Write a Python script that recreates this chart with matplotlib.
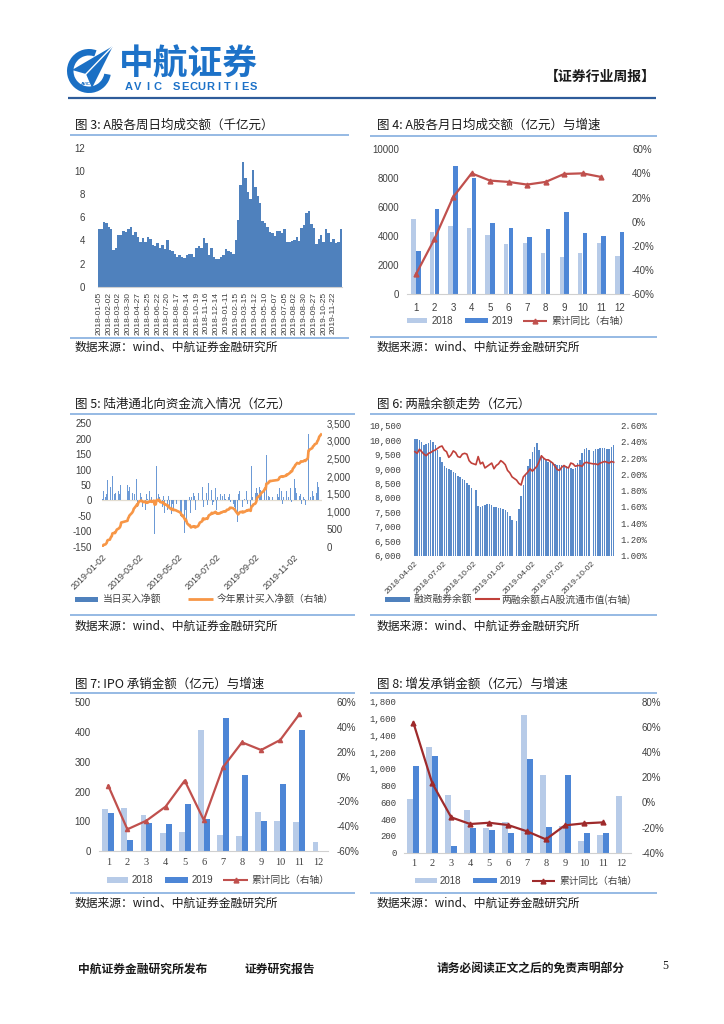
import numpy as np
import pandas as pd
import matplotlib
matplotlib.use('Agg')
import matplotlib.pyplot as plt
from matplotlib.patches import Rectangle, Wedge, Polygon
from matplotlib.ticker import FuncFormatter

CJK = ['Noto Sans CJK SC', 'DejaVu Sans']
SANS = ['Liberation Sans', 'DejaVu Sans']
SERIF = ['Liberation Serif', 'DejaVu Serif']
MONO = ['Liberation Mono', 'DejaVu Sans Mono']
plt.rcParams['font.family'] = CJK
plt.rcParams['axes.unicode_minus'] = False

# ------------------------------------------------------------------ data
# Fig 3: weekly average daily turnover (thousand 100m CNY)
turnover_w = [4.97, 5.0, 5.55, 5.5, 5.15, 4.95, 3.16, 3.38, 4.45, 4.5,
              4.8, 4.75, 5.0, 5.15, 4.5, 4.7, 4.27, 3.9, 4.2, 3.85,
              4.3, 4.1, 3.6, 3.5, 3.75, 3.3, 3.6, 3.27, 4.05, 3.2,
              3.05, 2.8, 2.6, 2.75, 2.6, 2.45, 2.75, 2.8, 2.85, 2.6,
              3.35, 3.5, 3.3, 4.2, 3.8, 2.75, 3.3, 2.6, 2.4, 2.4,
              2.55, 2.75, 3.25, 3.1, 3.0, 2.85, 4.0, 5.8, 8.75, 10.8,
              9.4, 8.2, 7.55, 10.1, 8.6, 7.8, 7.2, 5.7, 5.5, 5.15,
              4.7, 4.65, 4.4, 4.8, 4.85, 4.65, 5.0, 3.85, 3.9, 3.95,
              4.0, 4.25, 3.95, 5.05, 5.35, 6.4, 6.55, 5.4, 5.05, 3.7,
              4.1, 4.5, 3.9, 4.95, 4.6, 3.9, 4.1, 3.8, 3.9, 4.95]
weeks3_missing = ['2018-10-05', '2019-02-08']

# Fig 4: monthly average daily turnover (100m CNY) and cumulative YoY (%)
months = list(range(1, 13))
vol_2018 = [5200, 4300, 4690, 4550, 4070, 3450, 3520, 2830, 2600, 2870, 3540, 2670]
vol_2019 = [2970, 5890, 8850, 8050, 4900, 4600, 3950, 4480, 5680, 4230, 4050, 4280]
vol_yoy = [-43.4, -14.2, 20.3, 40.1, 34.1, 33.0, 30.8, 33.0, 39.6, 40.1, 37.1]

# Fig 5: northbound daily net buy (100m CNY), 2019 trading days
nb_jan = [5, 20, 30, 10, 25, 20, 65, 15, 10, 45, 35, 15, 80, 20, -10, 25, 35, 40, 30, 20, 15, 50]
nb_feb = [85, 50, 70, 30, 45, 20, 55, 25, 35, 60, 20, 70, 30, -20, 60]
nb_mar = [40, 25, 10, -15, -20, -10, 15, -30, 20, -25, 5, 30, 15, -5, 10, -30, 35, -108, 20, -15, 110]
nb_apr = [20, -25, 10, -50, -20, 15, -30, -40, 10, -25, -30, 15, -40, -20, -45, 20, -10, -30, 10, -15, -10]
nb_may = [-50, -35, -40, -25, 15, -107, -30, 20, -60, -50, -55, 10, -40, -30, 10, 25, -20, 15, -30, 15]
nb_jun = [20, 25, 40, 35, 45, 75, -20, 10, -10, 25, -15, 30, 55, 20, 30, 35, -15, 10, -5]
nb_jul = [40, -20, -30, 10, -15, 10, 20, 10, -5, 15, 20, -10, 5, 15, 30, 10, 20, 30, -5, 5, -15, -10, -20]
nb_aug = [-15, -35, -69, -25, 20, 30, 15, 10, -20, 25, -15, 5, 30, 15, -10, 20, 5, -30, 110, 20, 10, 40]
nb_sep = [20, 25, 40, 94, 25, 45, 20, 35, 25, 60, 40, 25, -10, 147, 15, 40, 10, 15, -5, 10]
nb_oct = [20, 10, 25, 40, 30, -5, -10, 10, 5, 15, 30, -10, 20, 10, 40, 35, -5, 15]
nb_nov = [60, 70, 40, 15, 25, 20, -20, 15, 20, 30, -10, 10, 20, 5, -15, 25, 55, 215, 10, 20, 10]
nb_dec = [30, 45, 15, 20, 30, 25, 60, 20, 45, 60, 65]
nb_holidays = ['2019-02-04', '2019-02-05', '2019-02-06', '2019-02-07', '2019-02-08',
               '2019-04-05', '2019-05-01', '2019-05-02', '2019-05-03', '2019-06-07',
               '2019-09-13', '2019-10-01', '2019-10-02', '2019-10-03', '2019-10-04',
               '2019-10-07']

# Fig 6: weekly margin balance (100m CNY) and share of A-share float cap (%)
margin_bal = [10030, 10040, 10000, 9950, 9840, 9880, 9900, 9990, 9940, 9840,
              9650, 9400, 9250, 9100, 9030, 9000, 8970, 8900, 8860, 8760,
              8720, 8650, 8620, 8530, 8440, 8330, 8290,
              7730, 7700, 7720, 7740, 7800, 7780, 7740, 7700, 7670, 7660,
              7640, 7600, 7570, 7500, 7380, 7250, 7200,
              7600, 8050, 8450, 8800, 9100, 9350, 9600, 9780, 9900, 9650,
              9500, 9380, 9300, 9260, 9230, 9200, 9180, 9150, 9140, 9130,
              9120, 9100, 9080, 9020, 8990, 9050, 9200, 9330, 9550, 9680,
              9740, 9650,
              9620, 9680, 9710, 9720, 9720, 9730, 9700, 9710, 9780, 9840]
margin_ratio = [2.28, 2.26, 2.31, 2.28, 2.25, 2.23, 2.26, 2.27, 2.29, 2.30,
                2.32, 2.34, 2.35, 2.30, 2.28, 2.21, 2.24, 2.29, 2.27, 2.22,
                2.21, 2.25, 2.26, 2.25, 2.17, 2.14, 2.12,
                2.22, 2.13, 2.15, 2.08, 2.10, 2.12, 2.14, 2.07, 2.11, 2.13,
                2.17, 2.15, 2.12, 2.05, 2.02, 1.97, 1.93,
                1.89, 1.87, 1.97, 2.00, 2.03, 2.07, 2.04, 2.07, 2.10, 2.16,
                2.23, 2.20, 2.18, 2.18, 2.16, 2.14, 2.10, 2.06, 2.05, 2.09,
                2.11, 2.09, 2.08, 2.14, 2.13, 2.10, 2.11, 2.11, 2.10, 2.14,
                2.15, 2.14,
                2.13, 2.13, 2.12, 2.14, 2.15, 2.16, 2.15, 2.14, 2.16, 2.15]
weeks6_missing = ['2018-10-05', '2019-02-08', '2019-10-04']

# Fig 7: IPO underwriting (100m CNY)
ipo_2018 = [140, 146, 120, 59, 64, 407, 55, 50, 132, 101, 99, 30]
ipo_2019 = [129, 37, 95, 90, 158, 107, 448, 254, 102, 226, 406]
ipo_yoy = [-7.3, -42.5, -35.5, -24.2, -3.2, -35.0, 7.5, 27.7, 21.5, 29.6, 50.3]

# Fig 8: follow-on offering underwriting (100m CNY)
seo_2018 = [640, 1264, 687, 509, 290, 366, 1641, 926, 322, 143, 215, 675]
seo_2019 = [1029, 1156, 79, 294, 270, 238, 1113, 302, 922, 234, 234]
seo_yoy = [63.3, 15.1, -11.9, -17.2, -16.2, -18.0, -23.0, -29.4, -18.3, -16.7, -15.9]

# ------------------------------------------------------------------ colours
C18 = '#b7cbe8'
C19 = '#4d86d6'
RED = '#c0504d'
LINE = '#8db4e2'
TICK = '#404040'

W, H = 724, 1024
fig = plt.figure(figsize=(W / 100, H / 100), dpi=100)
bg = fig.add_axes([0, 0, 1, 1])
bg.set_xlim(0, W)
bg.set_ylim(H, 0)
bg.axis('off')
bg.set_autoscale_on(False)


def add_ax(x0, y0, x1, y1):
    return fig.add_axes([x0 / W, 1 - y1 / H, (x1 - x0) / W, (y1 - y0) / H])


def style(ax, bottom=True):
    for s in ax.spines.values():
        s.set_visible(False)
    if bottom:
        ax.spines['bottom'].set_visible(True)
        ax.spines['bottom'].set_color('#d0d0d0')
        ax.spines['bottom'].set_linewidth(0.8)
    ax.tick_params(length=0, colors=TICK)
    ax.patch.set_alpha(0)


def hline(x0, x1, y, color=LINE, lw=1.3):
    bg.plot([x0, x1], [y, y], color=color, lw=lw, solid_capstyle='butt')


def title(x, y, s):
    bg.text(x, y, s, fontsize=9, va='center', ha='left', color='#1a1a1a', family=CJK)


def source(x, y):
    bg.text(x, y, '数据来源：wind、中航证券金融研究所', fontsize=8.5, va='center',
            ha='left', color='#1a1a1a', family=CJK)


def leg_patch(x0, x1, y, color, h=5.5):
    bg.add_patch(Rectangle((x0, y - h / 2), x1 - x0, h, color=color, lw=0))


def leg_line(x0, x1, y, color, lw=1.5, marker=None, ms=4):
    bg.plot([x0, x1], [y, y], color=color, lw=lw, solid_capstyle='butt')
    if marker:
        bg.plot([(x0 + x1) / 2], [y], marker=marker, color=color, ms=ms, lw=0)


def leg_text(x, y, s, fam=CJK, size=7):
    bg.text(x, y, s, fontsize=size, va='center', ha='left', color=TICK, family=fam)


pct0 = FuncFormatter(lambda v, p: f'{v:.0f}%')
comma = FuncFormatter(lambda v, p: f'{v:,.0f}')

# ------------------------------------------------------------------ header
bg.add_patch(Wedge((89, 71), 22, 10, 290, width=6.5, color='#1a6fc4', lw=0))
bg.add_patch(Polygon([(113, 46), (72, 70), (86, 74), (92, 88)], closed=True,
                     color='#1a6fc4', lw=0))
bg.plot([113, 86], [46, 74], color='white', lw=1.0)
bg.text(86, 84, 'AVIC', fontsize=3.2, color='#1a6fc4', ha='center', va='center',
        family=SANS, fontweight='bold')
bg.text(119, 64, '中航证券', fontsize=25, fontweight='bold', color='#1d72c8',
        va='center', ha='left', family=CJK)
avic = 'AVIC'
for i, ch in enumerate(avic):
    bg.text(128.5 + 9.5 * i, 87.5, ch, fontsize=8, color='#1d72c8', ha='center',
            va='center', family=SANS, fontweight='bold')
sec = 'SECURITIES'
for i, ch in enumerate(sec):
    bg.text(176 + 8.6 * i, 87.5, ch, fontsize=8, color='#1d72c8', ha='center',
            va='center', family=SANS, fontweight='bold')
bg.text(656, 77, '【证券行业周报】', fontsize=10, fontweight='bold', ha='right',
        va='center', color='#1a1a1a', family=CJK)
hline(68, 656, 97.5, color='#2e5c9a', lw=1.6)

# ------------------------------------------------------------------ Fig 3
title(75, 125.7, '图 3: A股各周日均成交额（千亿元）')
hline(70, 349, 135)
ax3 = add_ax(97.8, 147.7, 342.0, 286.7)
style(ax3)
weeks3 = pd.date_range('2018-01-05', '2019-12-13', freq='W-FRI')
weeks3 = weeks3[~weeks3.isin(pd.to_datetime(weeks3_missing))]
x3 = np.arange(len(turnover_w))
ax3.bar(x3, turnover_w, width=1.0, color='#4f81bd', lw=0)
ax3.set_xlim(-0.5, len(turnover_w) - 0.5)
ax3.set_ylim(0, 12)
ax3.set_yticks(range(0, 13, 2))
ax3.set_xticks(x3[::4], [d.strftime('%Y-%m-%d') for d in weeks3[::4]], rotation=90)
ax3.tick_params(axis='x', labelsize=6, pad=3.6, labelfontfamily=SANS)
ax3.tick_params(axis='y', labelsize=7, pad=9, labelfontfamily=SANS)
hline(70, 349, 337.7)
source(75, 347.3)

# ------------------------------------------------------------------ Fig 4
title(376.7, 125.7, '图 4: A股各月日均成交额（亿元）与增速')
hline(370, 656.7, 135.7)
ax4 = add_ax(406.7, 149.3, 629.0, 294.3)
style(ax4)
m = np.array(months)
ax4.bar(m - 0.13, vol_2018, width=0.235, color=C18, lw=0)
ax4.bar(m[:len(vol_2019)] + 0.13, vol_2019, width=0.235, color=C19, lw=0)
ax4.set_xlim(0.5, 12.5)
ax4.set_ylim(0, 10000)
ax4.set_yticks(range(0, 10001, 2000))
ax4.set_xticks(m)
ax4.tick_params(axis='x', labelsize=7, pad=6.5, labelfontfamily=SANS)
ax4.tick_params(axis='y', labelsize=7, pad=5.5, labelfontfamily=SANS)
ax4r = ax4.twinx()
style(ax4r, bottom=False)
ax4r.plot(m[:len(vol_yoy)], vol_yoy, color=RED, lw=1.6, marker='^', ms=3.5)
ax4r.set_ylim(-60, 60)
ax4r.set_yticks(range(-60, 61, 20))
ax4r.yaxis.set_major_formatter(pct0)
ax4r.tick_params(axis='y', labelsize=7, pad=2.2, labelfontfamily=SANS)
leg_patch(406.7, 426.7, 320.7, C18)
leg_text(431.7, 320.7, '2018', fam=SANS)
leg_patch(465, 488.3, 320.7, C19)
leg_text(491.7, 320.7, '2019', fam=SANS)
leg_line(523.3, 546.7, 320.7, RED, marker='^', ms=3.5)
leg_text(551.7, 320.7, '累计同比（右轴）')
hline(370, 656.7, 336.7)
source(376.7, 347.3)

# ------------------------------------------------------------------ Fig 5
title(75, 404, '图 5: 陆港通北向资金流入情况（亿元）')
hline(70, 355, 414)
ax5 = add_ax(101.7, 423.3, 321.7, 546.7)
style(ax5, bottom=False)
nb_days = pd.bdate_range('2019-01-02', '2019-12-16')
nb_days = nb_days[~nb_days.isin(pd.to_datetime(nb_holidays))]
nb_daily = np.array(nb_jan + nb_feb + nb_mar + nb_apr + nb_may + nb_jun + nb_jul
                    + nb_aug + nb_sep + nb_oct + nb_nov + nb_dec, dtype=float)
nb_cum = np.cumsum(nb_daily)
ax5.axhline(0, color='#e3ddd0', lw=0.9, zorder=0)
ax5.bar(nb_days, nb_daily, width=0.8, color='#5c8fd2', lw=0, alpha=0.9)
ax5.set_xlim(pd.Timestamp('2019-01-01'), pd.Timestamp('2019-12-17'))
ax5.set_ylim(-150, 250)
ax5.set_yticks(range(-150, 251, 50))
ticks5 = pd.to_datetime(['2019-01-02', '2019-03-02', '2019-05-02', '2019-07-02',
                         '2019-09-02', '2019-11-02'])
ax5.set_xticks(ticks5, [d.strftime('%Y-%m-%d') for d in ticks5], rotation=45,
               ha='right', rotation_mode='anchor')
ax5.tick_params(axis='x', labelsize=6.5, pad=4.5, labelfontfamily=SANS)
ax5.tick_params(axis='y', labelsize=7, pad=7.2, labelfontfamily=SANS)
ax5r = ax5.twinx()
style(ax5r, bottom=False)
ax5r.plot(nb_days, nb_cum, color='#f79646', lw=1.9)
ax5r.set_ylim(0, 3500)
ax5r.set_yticks(range(0, 3501, 500))
ax5r.yaxis.set_major_formatter(comma)
ax5r.tick_params(axis='y', labelsize=7, pad=3.6, labelfontfamily=SANS)
ax5r.set_xlim(pd.Timestamp('2019-01-01'), pd.Timestamp('2019-12-17'))
leg_patch(75, 98.3, 599.3, '#4f81bd')
leg_text(103.3, 599.3, '当日买入净额')
leg_line(188.3, 213.3, 599.3, '#f79646', lw=2)
leg_text(216.7, 599.3, '今年累计买入净额（右轴）')
hline(70, 355, 615)
source(75, 626.7)

# ------------------------------------------------------------------ Fig 6
title(376.7, 404, '图 6: 两融余额走势（亿元）')
hline(370, 656.7, 414)
ax6 = add_ax(413.3, 425.7, 615.0, 555.7)
style(ax6, bottom=False)
weeks6 = pd.date_range('2018-04-06', '2019-12-13', freq='W-FRI')
weeks6 = weeks6[~weeks6.isin(pd.to_datetime(weeks6_missing))]
mid6 = weeks6 - pd.Timedelta(days=2)
ax6.bar(mid6, margin_bal, width=4.6, color='#5a8bca', lw=0)
ax6.set_ylim(6000, 10500)
ax6.set_yticks(range(6000, 10501, 500))
ax6.yaxis.set_major_formatter(comma)
xl6 = (pd.Timestamp('2018-03-30'), pd.Timestamp('2019-12-15'))
ax6.set_xlim(*xl6)
ticks6 = pd.to_datetime(['2018-04-02', '2018-07-02', '2018-10-02', '2019-01-02',
                         '2019-04-02', '2019-07-02', '2019-10-02'])
ax6.set_xticks(ticks6, [d.strftime('%Y-%m-%d') for d in ticks6], rotation=45,
               ha='right', rotation_mode='anchor')
ax6.tick_params(axis='x', labelsize=6, pad=3, labelfontfamily=SANS)
ax6.tick_params(axis='y', labelsize=6.5, pad=8.4, labelfontfamily=MONO)
ax6r = ax6.twinx()
style(ax6r, bottom=False)
ax6r.plot(mid6, margin_ratio, color='#c0403a', lw=1.2)
ax6r.set_ylim(1.0, 2.6)
ax6r.set_yticks(np.arange(1.0, 2.61, 0.2))
ax6r.yaxis.set_major_formatter(FuncFormatter(lambda v, p: f'{v:.2f}%'))
ax6r.tick_params(axis='y', labelsize=6.5, pad=4, labelfontfamily=MONO)
ax6r.set_xlim(*xl6)
leg_patch(385, 410, 599.3, '#4f81bd')
leg_text(413.3, 599.3, '融资融券余额')
leg_line(475, 500, 599.3, '#c0403a', lw=1.5)
leg_text(501.7, 599.3, '两融余额占A股流通市值(右轴)')
hline(370, 656.7, 615)
source(376.7, 626.7)

# ------------------------------------------------------------------ Fig 7
title(75, 684, '图 7: IPO 承销金额（亿元）与增速')
hline(70, 355, 692.7)
ax7 = add_ax(98.7, 702.3, 328.0, 851.0)
style(ax7)
ax7.bar(m - 0.155, ipo_2018, width=0.31, color=C18, lw=0)
ax7.bar(m[:len(ipo_2019)] + 0.155, ipo_2019, width=0.31, color=C19, lw=0)
ax7.set_xlim(0.5, 12.5)
ax7.set_ylim(0, 500)
ax7.set_yticks(range(0, 501, 100))
ax7.set_xticks(m)
ax7.tick_params(axis='x', labelsize=7.5, pad=5, labelfontfamily=SERIF)
ax7.tick_params(axis='y', labelsize=7, pad=5.8, labelfontfamily=SANS)
ax7r = ax7.twinx()
style(ax7r, bottom=False)
ax7r.plot(m[:len(ipo_yoy)], ipo_yoy, color=RED, lw=1.6, marker='^', ms=3)
ax7r.set_ylim(-60, 60)
ax7r.set_yticks(range(-60, 61, 20))
ax7r.yaxis.set_major_formatter(pct0)
ax7r.tick_params(axis='y', labelsize=7, pad=6.3, labelfontfamily=SANS)
leg_patch(106.7, 128.3, 880, C18)
leg_text(131.7, 880, '2018', fam=SANS)
leg_patch(165, 188.3, 880, C19)
leg_text(191.7, 880, '2019', fam=SANS)
leg_line(223.3, 248.3, 880, RED, marker='^', ms=3.5)
leg_text(251.7, 880, '累计同比（右轴）')
hline(70, 355, 892.7)
source(75, 903.3)

# ------------------------------------------------------------------ Fig 8
title(376.7, 684, '图 8: 增发承销金额（亿元）与增速')
hline(370, 656.7, 692.7)
ax8 = add_ax(403.9, 701.7, 631.1, 852.7)
style(ax8)
ax8.bar(m - 0.155, seo_2018, width=0.31, color=C18, lw=0)
ax8.bar(m[:len(seo_2019)] + 0.155, seo_2019, width=0.31, color=C19, lw=0)
ax8.set_xlim(0.5, 12.5)
ax8.set_ylim(0, 1800)
ax8.set_yticks(range(0, 1801, 200))
ax8.yaxis.set_major_formatter(comma)
ax8.set_xticks(m)
ax8.tick_params(axis='x', labelsize=7.5, pad=4.2, labelfontfamily=SERIF)
ax8.tick_params(axis='y', labelsize=6.5, pad=5.2, labelfontfamily=MONO)
ax8r = ax8.twinx()
style(ax8r, bottom=False)
ax8r.plot(m[:len(seo_yoy)], seo_yoy, color='#9e2a2b', lw=1.6, marker='^', ms=3.5)
ax8r.set_ylim(-40, 80)
ax8r.set_yticks(range(-40, 81, 20))
ax8r.yaxis.set_major_formatter(pct0)
ax8r.tick_params(axis='y', labelsize=7, pad=7.6, labelfontfamily=SANS)
leg_patch(415, 436.7, 880.7, C18)
leg_text(440, 880.7, '2018', fam=SANS)
leg_patch(473.3, 496.7, 880.7, C19)
leg_text(500, 880.7, '2019', fam=SANS)
leg_line(531.7, 555, 880.7, '#9e2a2b', marker='^', ms=3.5)
leg_text(559.3, 880.7, '累计同比（右轴）')
hline(370, 656.7, 892.7)
source(376.7, 903.3)

# ------------------------------------------------------------------ footer
bg.text(78, 969, '中航证券金融研究所发布', fontsize=8.5, fontweight='bold',
        va='center', ha='left', color='#1a1a1a', family=CJK)
bg.text(245, 969, '证券研究报告', fontsize=8.5, fontweight='bold',
        va='center', ha='left', color='#1a1a1a', family=CJK)
bg.text(437, 969, '请务必阅读正文之后的免责声明部分', fontsize=8.5, fontweight='bold',
        va='center', ha='left', color='#1a1a1a', family=CJK)
bg.text(662, 966, '5', fontsize=8.5, va='center', ha='left', color='#1a1a1a',
        family=SERIF)

fig.savefig('out.png', dpi=100)
